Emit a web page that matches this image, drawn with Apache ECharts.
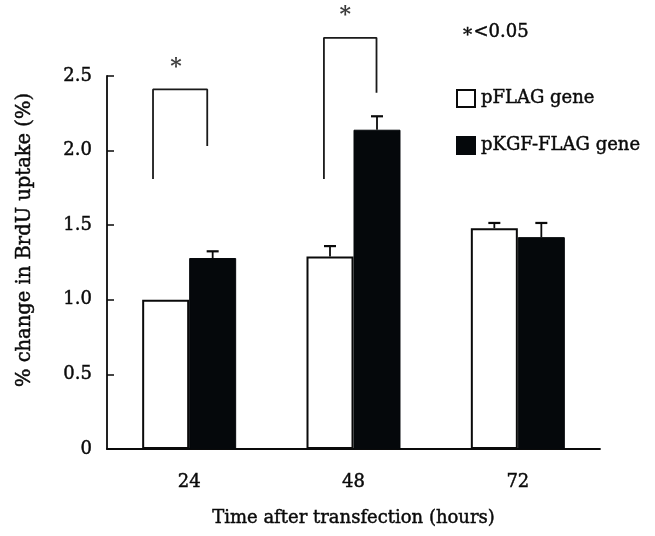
<!DOCTYPE html>
<html>
<head>
<meta charset="utf-8">
<script src="https://cdn.jsdelivr.net/npm/echarts@6/dist/echarts.min.js"></script>
<style>html,body{margin:0;padding:0;background:#fff;}#c{width:655px;height:536px;}</style>
</head>
<body>
<div id="c"></div>
<script>
// ---- data ----
const categories = ['24', '48', '72'];
const seriesNames = ['pFLAG gene', 'pKGF-FLAG gene'];
const pflagValues = [1.0, 1.29, 1.48];
const pkgfValues = [1.28, 2.14, 1.42];
const pflagErr = [0, 0.07, 0.035];
const pkgfErr = [0.045, 0.09, 0.095];
const yTicks = [0, 0.5, 1.0, 1.5, 2.0, 2.5];
// significance brackets (x in category units from left edge, y in value units)
const bracket24 = [[0.28, 1.81], [0.28, 2.41], [0.61, 2.41], [0.61, 2.03]];
const bracket48 = [[1.32, 1.81], [1.32, 2.756], [1.64, 2.756], [1.64, 2.387]];
const starMarks = [[0.42, 2.58], [1.45, 2.93]];

const FONT = 'DejaVu Serif';
const INK = '#0a0a0a';
const EMB = {textBorderColor: INK, textBorderWidth: 0.45};

const chart = echarts.init(document.getElementById('c'), null, {renderer: 'canvas'});

function errData(vals, errs, side) {
  return vals.map((v, i) => [i, v, errs[i], side]);
}

function renderErr(params, api) {
  const ci = api.value(0), v = api.value(1), e = api.value(2), side = api.value(3);
  if (!e) return null;
  const band = api.size([1, 0])[0];
  const off = side * band * 0.143;
  const p0 = api.coord([ci, v]);
  const p1 = api.coord([ci, v + e]);
  const x = p0[0] + off;
  const cap = 6;
  return {
    type: 'group',
    children: [
      {type: 'line', shape: {x1: x, y1: p0[1], x2: x, y2: p1[1]}, style: {stroke: INK, lineWidth: 1.8}},
      {type: 'line', shape: {x1: x - cap, y1: p1[1], x2: x + cap, y2: p1[1]}, style: {stroke: INK, lineWidth: 2.2}}
    ]
  };
}

const option = {
  backgroundColor: '#fff',
  animation: false,
  textStyle: {fontFamily: FONT},
  grid: {left: 107, right: 55, top: 76, bottom: 87, containLabel: false},
  legend: {
    orient: 'vertical',
    left: 451,
    top: 84,
    icon: 'rect',
    itemWidth: 18,
    itemHeight: 17,
    itemGap: 28,
    data: seriesNames,
    textStyle: Object.assign({fontFamily: FONT, fontSize: 18, color: INK, padding: [0, 0, 0, 1]}, EMB)
  },
  graphic: [
    {type: 'text', left: 461, top: 23, style: {text: '∗<0.05', fontFamily: FONT, fontSize: 18, fill: INK, stroke: INK, lineWidth: 0.45}},
    {type: 'text', x: 25, y: 240, rotation: Math.PI / 2,
     style: {text: '% change in BrdU uptake (%)', fontFamily: FONT, fontSize: 19.5, fill: INK, stroke: INK, lineWidth: 0.45, align: 'center', verticalAlign: 'middle'}}
  ],
  xAxis: [
    {
      type: 'category',
      data: categories,
      axisLine: {lineStyle: {color: INK, width: 1.8}},
      axisTick: {inside: true, length: 6, lineStyle: {color: INK, width: 1.5}},
      axisLabel: Object.assign({fontFamily: FONT, fontSize: 18, color: INK, margin: 24}, EMB),
      name: 'Time after transfection (hours)',
      nameLocation: 'middle',
      nameGap: 60,
      nameTextStyle: Object.assign({fontFamily: FONT, fontSize: 18, color: INK}, EMB)
    },
    {type: 'value', min: 0, max: 3, show: false}
  ],
  yAxis: {
    type: 'value',
    min: 0, max: 2.5, interval: 0.5,
    splitLine: {show: false},
    axisLine: {show: true, lineStyle: {color: INK, width: 1.8}},
    axisTick: {show: true, inside: true, length: 7, lineStyle: {color: INK, width: 1.5}},
    axisLabel: Object.assign({fontFamily: FONT, fontSize: 18, color: INK, margin: 15,
      formatter: v => (yTicks.indexOf(v) >= 0 ? (v === 0 ? '0' : v.toFixed(1)) : '')}, EMB)
  },
  series: [
    {
      name: seriesNames[0], type: 'bar', data: pflagValues,
      barWidth: '28.6%', barGap: '0%',
      itemStyle: {color: '#fff', borderColor: INK, borderWidth: 2}
    },
    {
      name: seriesNames[1], type: 'bar', data: pkgfValues,
      barWidth: '28.6%', barGap: '0%',
      itemStyle: {color: '#05080b', borderColor: '#05080b', borderWidth: 1}
    },
    {type: 'custom', renderItem: renderErr, data: errData(pflagValues, pflagErr, -1), z: 5, silent: true},
    {type: 'custom', renderItem: renderErr, data: errData(pkgfValues, pkgfErr, 1), z: 5, silent: true},
    {type: 'line', xAxisIndex: 1, data: bracket24, symbol: 'none', clip: false,
     lineStyle: {color: '#1a1a1a', width: 1.8}, silent: true},
    {type: 'line', xAxisIndex: 1, data: bracket48, symbol: 'none', clip: false,
     lineStyle: {color: '#1a1a1a', width: 1.8}, silent: true},
    {type: 'scatter', xAxisIndex: 1, data: starMarks, symbolSize: 0, clip: false, silent: true,
     label: {show: true, position: 'inside', offset: [0, 3], formatter: '*', fontFamily: FONT, fontWeight: 'bold', fontSize: 22, color: INK}}
  ]
};
chart.setOption(option);
</script>
</body>
</html>
